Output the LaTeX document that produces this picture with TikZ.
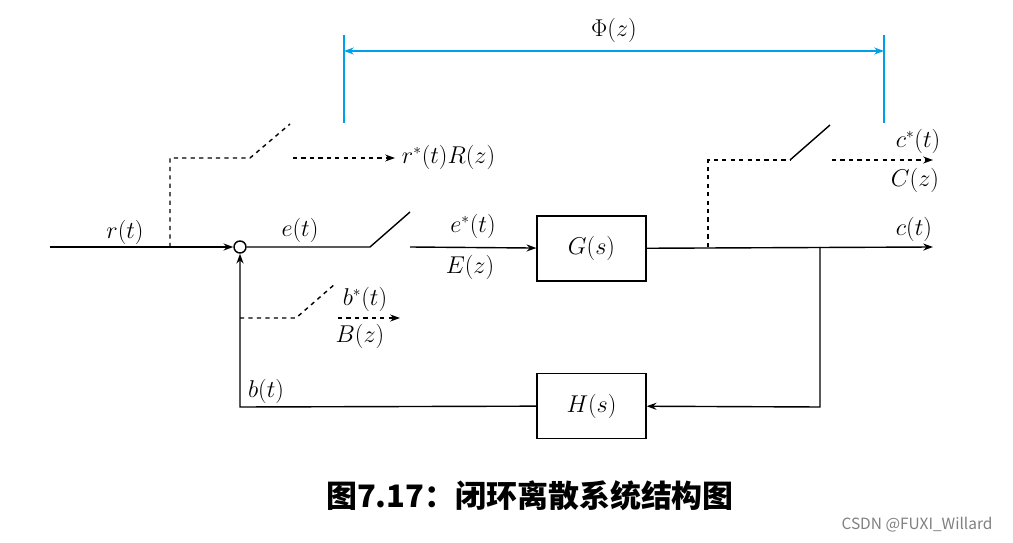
\documentclass[tikz,border=0pt]{standalone}
\usepackage{fontspec}
\newfontfamily\cjk{Noto Sans CJK SC}
\usetikzlibrary{positioning,arrows.meta}
\definecolor{phiblue}{RGB}{0,160,233}
\tikzset{
  blk/.style={draw,line width=1pt,minimum width=2.72cm,minimum height=1.62cm,font=\fontsize{16}{18}\selectfont},
  lbl/.style={font=\fontsize{16}{18}\selectfont},
  sig/.style={line width=1pt,-{Stealth[length=7pt,width=5pt]}},
  smp/.style={line width=1pt,dashed,-{Stealth[length=7pt,width=5pt]}}
}
\begin{document}
\begin{tikzpicture}[x=0.025cm,y=-0.025cm]
\useasboundingbox(0,0)rectangle(1013,543);
% blocks
\node[blk](G) at (591.5,248.5){$G(s)$};
\node[blk](H) at (591.5,406){$H(s)$};
\node[draw,line width=1pt,circle,minimum size=0.3cm,inner sep=0pt](sum) at (240,247){};
% main path
\coordinate(in) at (50,247);
\coordinate(rb) at (170,247);
\draw[sig](in)--(sum);
\node[lbl] at (125,232){$r(t)$};
\coordinate(e1) at (370,247);
\coordinate(e2) at (410,247);
\draw[line width=1pt](sum)--(e1)--++(40,-35);
\node[lbl] at (300,230){$e(t)$};
\draw[sig](e2)--(G);
\node[lbl] at (473,226){$e^*(t)$};
\node[lbl] at (470,267){$E(z)$};
\coordinate(out) at (933,247);
\draw[sig](G)--(out);
\node[lbl] at (914,229){$c(t)$};
% feedback
\coordinate(fb) at (820,247);
\draw[sig](fb)--(820,407)--(H);
\draw[sig](H)--(240,407)--(sum);
\node[lbl] at (266,391){$b(t)$};
% sampled r
\draw[line width=1pt,dashed](rb)--(170,158)--(250,158)--(290,124);
\draw[smp](293,158)--(395,158);
\node[lbl,anchor=west] at (397,157){$r^*(t)R(z)$};
% sampled b
\draw[line width=1pt,dashed](240,318)--(296,318)--(335,284);
\draw[smp](338,318)--(400,318);
\node[lbl] at (365,299){$b^*(t)$};
\node[lbl] at (360,336){$B(z)$};
% sampled c
\coordinate(cb) at (708,247);
\draw[line width=1pt,dashed](cb)--(708,160)--(790,160);
\draw[line width=1pt](790,160)--(830,125);
\draw[smp](832,160)--(933,160);
\node[lbl] at (918,141){$c^*(t)$};
\node[lbl] at (915,180){$C(z)$};
% Phi
\draw[phiblue,line width=1pt](344,35)--(344,123);
\draw[phiblue,line width=1pt](884,35)--(884,123);
\draw[phiblue,line width=1pt,{Stealth[length=7pt,width=5pt]}-{Stealth[length=7pt,width=5pt]}](344,51)--(884,51);
\node[lbl] at (614,30){$\Phi(z)$};
% caption
\node[font=\cjk\bfseries\fontsize{22}{24}\selectfont] at (530,496){图7.17：闭环离散系统结构图};
\node[font=\cjk\fontsize{11}{13}\selectfont,text=gray] at (917,525){CSDN @FUXI\_Willard};
\end{tikzpicture}
\end{document}
